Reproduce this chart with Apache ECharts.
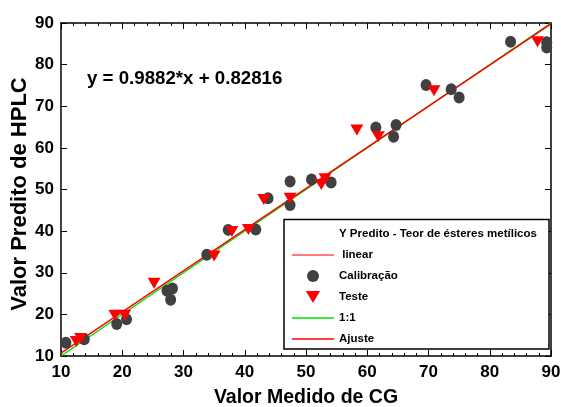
<!DOCTYPE html>
<html>
<head>
<meta charset="utf-8">
<script src="https://cdn.jsdelivr.net/npm/echarts@6/dist/echarts.min.js"></script>
<style>
html,body{margin:0;padding:0;background:#fff;}
#main{width:561px;height:407px;}
</style>
</head>
<body>
<div id="main"></div>
<script>
// ---- data ----
var calX = [10.8, 13.8, 19.1, 20.7, 27.3, 28.2, 27.9, 33.8, 37.3, 41.8, 43.8, 47.4, 47.4, 50.9, 54.1, 61.4, 64.7, 64.3, 69.6, 73.7, 75.0, 83.4, 89.3, 89.3];
var calY = [13.2, 14.0, 17.7, 18.8, 25.7, 26.2, 23.5, 34.3, 40.3, 40.4, 47.9, 51.9, 46.3, 52.4, 51.7, 64.9, 65.5, 62.7, 75.1, 74.1, 72.1, 85.5, 85.4, 84.1];
var testX = [12.5, 13.2, 18.8, 20.4, 25.2, 35.0, 37.9, 40.6, 43.1, 47.4, 52.5, 53.1, 58.3, 61.8, 70.9, 87.8];
var testY = [13.5, 14.2, 19.8, 19.8, 27.5, 34.0, 39.9, 40.4, 47.6, 47.9, 51.2, 52.6, 64.3, 62.7, 73.7, 85.5];
var lineX = [10, 90];
var oneToOneY = [10, 90];
var fitY = [10.71, 89.77];
var xTicks = [10, 20, 30, 40, 50, 60, 70, 80, 90];
var yTicks = [10, 20, 30, 40, 50, 60, 70, 80, 90];
var equationText = 'y = 0.9882*x + 0.82816';
var legendTitle = 'Y Predito - Teor de ésteres metílicos';
var names = {linear: ' linear', cal: 'Calibração', test: 'Teste', one: '1:1', fit: 'Ajuste'};
var xTitle = 'Valor Medido de CG';
var yTitle = 'Valor Predito de HPLC';

function zip(a, b) { return a.map(function (v, i) { return [v, b[i]]; }); }

var FONT = 'Liberation Sans, Arial, sans-serif';
var LINE_ICON = 'path://M0,0H42V1.5H0Z';
var TRI_DOWN_ICON = 'path://M0,0L13,0L6.5,11Z';
var chart = echarts.init(document.getElementById('main'), null, {renderer: 'canvas'});

var axisCommon = {
  min: 10, max: 90, interval: 10,
  splitLine: {show: false},
  axisLine: {show: true, onZero: false, lineStyle: {color: '#000', width: 1.5}}
};

chart.setOption({
  animation: false,
  backgroundColor: '#fff',
  grid: {left: 61, right: 10, top: 23, bottom: 51, containLabel: false, outerBoundsMode: 'none'},
  xAxis: [
    Object.assign({}, axisCommon, {
      type: 'value', position: 'bottom',
      name: xTitle, nameLocation: 'middle', nameGap: 32,
      nameTextStyle: {fontFamily: FONT, fontWeight: 'bold', fontSize: 19.5, color: '#000'},
      axisTick: {show: true, inside: true, length: 6, lineStyle: {color: '#000', width: 1}},
      minorTick: {show: true, splitNumber: 5, length: 3, lineStyle: {color: '#000', width: 1}},
      axisLabel: {margin: 8, fontFamily: FONT, fontWeight: 'bold', fontSize: 17, color: '#000',
        formatter: function (v) { return xTicks.indexOf(v) >= 0 ? String(v) : ''; }}
    }),
    Object.assign({}, axisCommon, {
      type: 'value', position: 'top',
      axisTick: {show: true, inside: true, length: 6, lineStyle: {color: '#000', width: 1}},
      minorTick: {show: true, splitNumber: 5, length: 3, lineStyle: {color: '#000', width: 1}},
      axisLabel: {show: false}
    })
  ],
  yAxis: [
    Object.assign({}, axisCommon, {
      type: 'value', position: 'left',
      axisTick: {show: true, inside: true, length: 6, lineStyle: {color: '#000', width: 1}},
      axisLabel: {margin: 7, fontFamily: FONT, fontWeight: 'bold', fontSize: 17, color: '#000',
        formatter: function (v) { return yTicks.indexOf(v) >= 0 ? String(v) : ''; }}
    }),
    Object.assign({}, axisCommon, {
      type: 'value', position: 'right',
      axisTick: {show: true, inside: true, length: 6, lineStyle: {color: '#000', width: 1}},
      axisLabel: {show: false}
    })
  ],
  legend: {
    z: 200,
    orient: 'vertical',
    left: 292, top: 228,
    padding: 0,
    itemWidth: 42, itemHeight: 12, itemGap: 9,
    symbolKeepAspect: true,
    textStyle: {fontFamily: FONT, fontWeight: 'bold', fontSize: 11.5, color: '#000'},
    selectedMode: false,
    data: [
      {name: legendTitle, icon: 'none'},
      {name: names.linear, icon: LINE_ICON, itemStyle: {color: '#ff5050'}},
      {name: names.cal, icon: 'circle'},
      {name: names.test, icon: TRI_DOWN_ICON},
      {name: names.one, icon: LINE_ICON, itemStyle: {color: '#00e000'}},
      {name: names.fit, icon: LINE_ICON, itemStyle: {color: '#ff0000'}}
    ]
  },
  graphic: [
    {type: 'rect', z: 90, shape: {x: 284, y: 219.5, width: 265, height: 129.5},
     style: {fill: '#fff', stroke: '#000', lineWidth: 1.5}},
    {type: 'text', z: 100, left: 87, top: 69,
     style: {text: equationText, fontFamily: FONT, fontWeight: 'bold', fontSize: 18.7, fill: '#000'}},
    {type: 'text', z: 100, x: 20, y: 194, rotation: Math.PI / 2,
     style: {text: yTitle, fontFamily: FONT, fontWeight: 'bold', fontSize: 22, fill: '#000',
       align: 'center', verticalAlign: 'middle'}}
  ],
  series: [
    {name: legendTitle, type: 'scatter', data: []},
    {name: names.linear, type: 'line', symbol: 'none', data: [],
     lineStyle: {color: '#ff5050', width: 1.5}, itemStyle: {color: '#ff5050'}},
    {name: names.one, type: 'line', symbol: 'none', data: zip(lineX, oneToOneY), z: 3,
     lineStyle: {color: '#00e000', width: 1.5}, itemStyle: {color: '#00e000'}},
    {name: names.fit, type: 'line', symbol: 'none', data: zip(lineX, fitY), z: 4,
     lineStyle: {color: '#ff0000', width: 1.5}, itemStyle: {color: '#ff0000'}},
    {name: names.cal, type: 'scatter', data: zip(calX, calY), z: 5,
     symbol: 'circle', symbolSize: [11, 12], itemStyle: {color: '#404040', opacity: 1}},
    {name: names.test, type: 'scatter', data: zip(testX, testY), z: 6,
     symbol: 'triangle', symbolRotate: 180, symbolSize: [13, 11], itemStyle: {color: '#ff0000', opacity: 1}}
  ]
});
</script>
</body>
</html>
